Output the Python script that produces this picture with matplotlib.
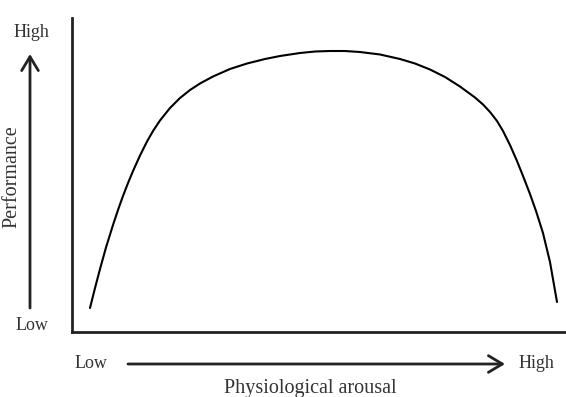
import matplotlib
matplotlib.use('Agg')
import matplotlib.pyplot as plt
from matplotlib.patches import FancyArrowPatch

# Curva de desempenho, escala 0-100 nos dois eixos
arousal = [3.64, 4.66, 5.67, 6.88, 8.30, 9.31, 10.32, 11.34, 12.35, 13.77,
           15.18, 16.40, 17.81, 19.84, 21.86, 23.89, 25.91, 28.54, 31.98, 35.43,
           39.07, 42.11, 46.15, 49.19, 52.23, 55.26, 58.30, 62.35, 66.40, 69.43,
           72.47, 75.51, 78.54, 81.58, 83.20, 84.62, 86.03, 87.25, 88.66, 90.08,
           91.30, 92.71, 93.93, 95.34, 96.76, 98.18]
performance = [7.64, 14.01, 20.06, 26.91, 34.08, 38.85, 43.31, 47.45, 51.27, 56.21,
               60.67, 64.01, 67.36, 71.34, 74.52, 77.07, 79.14, 81.37, 83.76, 85.51,
               86.94, 87.90, 88.85, 89.33, 89.49, 89.49, 89.17, 88.38, 86.94, 85.51,
               83.60, 81.21, 78.18, 74.68, 72.45, 70.06, 67.20, 64.01, 59.55, 54.46,
               49.68, 43.95, 38.54, 31.53, 22.29, 9.55]

x_label = 'Physiological arousal'
y_label = 'Performance'
low_text = 'Low'
high_text = 'High'

W, H = 566, 397
plt.rcParams['font.family'] = ['Liberation Serif', 'DejaVu Serif']

fig = plt.figure(figsize=(W / 100, H / 100), dpi=100)


def px(x, y):
    # pixel (origem no topo) -> fração da figura
    return x / W, 1 - y / H


ax = fig.add_axes([72 / W, (H - 332) / H, (W - 72) / W, (332 - 18) / H])
ax.plot(arousal, performance, color='black', lw=1.5,
        solid_joinstyle='round', solid_capstyle='round')
ax.set_xlim(0, 100)
ax.set_ylim(0, 100)
ax.set_xticks([])
ax.set_yticks([])
for side in ['top', 'right']:
    ax.spines[side].set_visible(False)
for side in ['left', 'bottom']:
    ax.spines[side].set_linewidth(2)
    ax.spines[side].set_color('#222222')

# Setas dos eixos
arrow = dict(arrowstyle='->,head_length=0.5,head_width=0.3', lw=2,
             color='#222222', mutation_scale=20, shrinkA=0, shrinkB=0)
fig.add_artist(FancyArrowPatch(px(30, 308), px(30, 54),
                               transform=fig.transFigure, **arrow))
fig.add_artist(FancyArrowPatch(px(128, 364), px(505, 364),
                               transform=fig.transFigure, **arrow))

# Textos
fs = 13
fig.text(*px(31, 37), high_text, ha='center', va='baseline', fontsize=fs, color='#333333')
fig.text(*px(32, 330), low_text, ha='center', va='baseline', fontsize=fs, color='#333333')
fig.text(*px(91, 368), low_text, ha='center', va='baseline', fontsize=fs, color='#333333')
fig.text(*px(536, 368), high_text, ha='center', va='baseline', fontsize=fs, color='#333333')
fig.text(*px(310, 393), x_label, ha='center', va='baseline', fontsize=14.5, color='#333333')
fig.text(*px(12, 177), y_label, ha='center', va='center', rotation=90,
         fontsize=14.5, color='#333333')

fig.savefig('out.png', dpi=100)
